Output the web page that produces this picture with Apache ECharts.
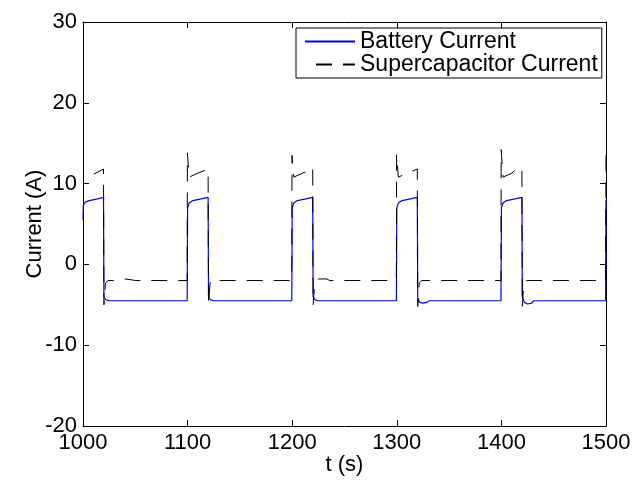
<!DOCTYPE html>
<html>
<head>
<meta charset="utf-8">
<script src="https://cdn.jsdelivr.net/npm/echarts@6/dist/echarts.min.js"></script>
<style>
  html, body { margin: 0; padding: 0; background: #fff; }
  #chart { width: 632px; height: 483px; }
</style>
</head>
<body>
<div id="chart"></div>
<script>
// battery current (blue, solid)
const batteryT = [1000, 1000.3, 1002, 1006, 1014, 1019.6, 1020, 1022, 1025,
  1099.6, 1100, 1101.5, 1105, 1113, 1119.6, 1120, 1122, 1125,
  1199.6, 1200, 1201.5, 1205, 1213, 1219.6, 1220, 1222, 1225,
  1299.6, 1300, 1301.5, 1305, 1313, 1319.6, 1320, 1322, 1325, 1329, 1331,
  1399.6, 1400, 1401.5, 1405, 1413, 1419.6, 1420, 1422, 1425, 1429, 1431,
  1499.6, 1500];
const batteryI = [5.5, 7.3, 7.7, 7.9, 8.1, 8.3, -4.0, -4.4, -4.5,
  -4.5, 7.0, 7.6, 7.9, 8.1, 8.3, -4.0, -4.4, -4.5,
  -4.5, 7.0, 7.6, 7.9, 8.1, 8.3, -4.0, -4.4, -4.5,
  -4.5, 7.0, 7.6, 7.9, 8.1, 8.3, -4.2, -4.7, -4.8, -4.7, -4.5,
  -4.5, 7.0, 7.6, 7.9, 8.1, 8.3, -4.0, -4.7, -4.9, -4.8, -4.5,
  -4.5, 8.0];

// supercapacitor current (black, dashed)
const superT = [1000, 1010, 1019.6, 1020, 1021.5, 1024, 1036, 1040, 1046, 1050,
  1099.6, 1099.8, 1101.5, 1110, 1119.6, 1120, 1121.5, 1124, 1128, 1131,
  1199.6, 1199.8, 1201.5, 1210, 1218, 1219.6, 1220, 1221.5, 1225, 1233, 1236,
  1299.6, 1299.8, 1301.5, 1310, 1319.6, 1320, 1321.5, 1324,
  1399.6, 1399.8, 1401.5, 1410, 1416, 1419.6, 1420, 1421.5, 1424,
  1499.6, 1500];
const superI = [10.8, 11.15, 11.8, -5.0, -2.3, -2.0, -2.0, -1.8, -1.9, -2.0,
  -2.0, 13.8, 10.8, 11.3, 11.8, -5.0, -2.3, -1.8, -1.9, -2.0,
  -2.0, 13.5, 10.8, 11.3, 11.7, 12.0, -5.0, -2.3, -1.8, -1.8, -2.0,
  -2.0, 13.6, 10.8, 11.3, 11.8, -5.2, -2.3, -2.0,
  -2.0, 14.2, 10.8, 11.3, 12.0, 11.9, -5.2, -2.3, -2.0,
  -2.0, 14.0];

const xTicks = [1000, 1100, 1200, 1300, 1400, 1500];
const yTicks = [-20, -10, 0, 10, 20, 30];

const zip = (a, b) => a.map((v, i) => [v, b[i]]);
const font = "Liberation Sans";

const chartInstance = echarts.init(document.getElementById("chart"), null, { renderer: "canvas" });

const boxAxisX = (pos, labels) => ({
  type: "value",
  position: pos,
  min: xTicks[0],
  max: xTicks[xTicks.length - 1],
  interval: xTicks[1] - xTicks[0],
  axisLine: { show: true, onZero: false, lineStyle: { color: "#000", width: 1 } },
  axisTick: { show: true, inside: true, length: 6, lineStyle: { color: "#000" } },
  axisLabel: {
    show: labels,
    color: "#000",
    fontSize: 22,
    fontFamily: font,
    margin: 6,
    formatter: (v) => String(v),
  },
  splitLine: { show: false },
});

const boxAxisY = (pos, labels) => ({
  type: "value",
  position: pos,
  min: yTicks[0],
  max: yTicks[yTicks.length - 1],
  interval: yTicks[1] - yTicks[0],
  axisLine: { show: true, onZero: false, lineStyle: { color: "#000", width: 1 } },
  axisTick: { show: true, inside: true, length: 6, lineStyle: { color: "#000" } },
  axisLabel: { show: labels, color: "#000", fontSize: 22, fontFamily: font, margin: 6 },
  splitLine: { show: false },
});

const xBottom = boxAxisX("bottom", true);
xBottom.name = "t (s)";
xBottom.nameLocation = "middle";
xBottom.nameGap = 28;
xBottom.nameMoveOverlap = false;
xBottom.nameTextStyle = { color: "#000", fontSize: 22, fontFamily: font };

const yLeft = boxAxisY("left", true);
yLeft.name = "Current (A)";
yLeft.nameLocation = "middle";
yLeft.nameGap = 37;
yLeft.nameMoveOverlap = false;
yLeft.nameTextStyle = { color: "#000", fontSize: 22, fontFamily: font };

const option = {
  animation: false,
  backgroundColor: "#fff",
  textStyle: { fontFamily: font },
  grid: {
    left: 83,
    right: 26,
    top: 22,
    bottom: 57,
    containLabel: false,
    outerBoundsMode: "none",
  },
  legend: {
    orient: "vertical",
    left: 296,
    top: 28,
    padding: [2, 4, 2, 8],
    itemGap: 0,
    itemWidth: 50,
    itemHeight: 14,
    borderColor: "#000",
    borderWidth: 1,
    backgroundColor: "#fff",
    itemStyle: { opacity: 0 },
    textStyle: { color: "#000", fontSize: 23, fontFamily: font, lineHeight: 22 },
    data: ["Battery Current", "Supercapacitor Current"],
  },
  xAxis: [xBottom, boxAxisX("top", false)],
  yAxis: [yLeft, boxAxisY("right", false)],
  series: [
    {
      name: "Battery Current",
      type: "line",
      xAxisIndex: 0,
      yAxisIndex: 0,
      symbol: "none",
      data: zip(batteryT, batteryI),
      lineStyle: { color: "#0000ff", width: 1.2 },
      itemStyle: { color: "#0000ff" },
    },
    {
      name: "Supercapacitor Current",
      type: "line",
      xAxisIndex: 0,
      yAxisIndex: 0,
      symbol: "none",
      data: zip(superT, superI),
      lineStyle: { color: "#000", width: 1, type: [16, 11], dashOffset: 16 },
      itemStyle: { color: "#000" },
    },
  ],
};

chartInstance.setOption(option);
</script>
</body>
</html>
